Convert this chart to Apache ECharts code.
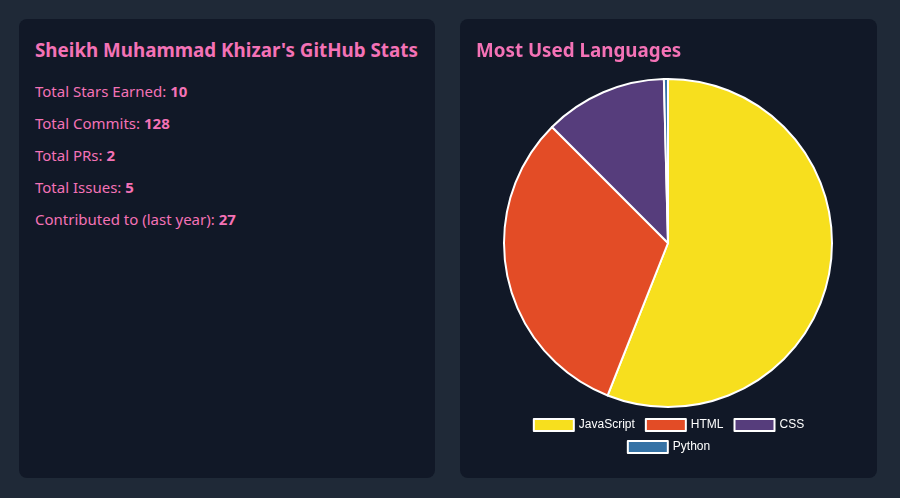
<!DOCTYPE html>
<html>
<head>
<meta charset="utf-8">
<script src="https://cdn.jsdelivr.net/npm/echarts@6/dist/echarts.min.js"></script>
<style>
  html, body { margin: 0; padding: 0; }
  body { width: 900px; height: 498px; background: #1f2937; position: relative; overflow: hidden; font-family: "Noto Sans", "Open Sans", sans-serif; }
  .card { position: absolute; top: 19px; width: 416px; height: 459px; background: #111827; border-radius: 8px; }
  #left { left: 19px; }
  #right { left: 460px; width: 417px; }
  .title { position: absolute; left: 16px; top: 18px; margin: 0; color: #f472b6; font-size: 18.8px; font-weight: bold; line-height: 26px; white-space: nowrap; }
  .stat { position: absolute; left: 16px; color: #f472b6; font-size: 15px; line-height: 20px; white-space: nowrap; }
  .stat b { font-weight: bold; }
  #chart { position: absolute; left: 0; top: 0; width: 417px; height: 459px; }
</style>
</head>
<body>
<div class="card" id="left">
  <div class="title" id="statsTitle"></div>
  <div id="stats"></div>
</div>
<div class="card" id="right">
  <div id="chart"></div>
  <div class="title" id="langTitle"></div>
</div>
<script>
const statsTitle = "Sheikh Muhammad Khizar's GitHub Stats";
const statLabels = ["Total Stars Earned", "Total Commits", "Total PRs", "Total Issues", "Contributed to (last year)"];
const statValues = [10, 128, 2, 5, 27];

const chartTitle = "Most Used Languages";
const languages = ["JavaScript", "HTML", "CSS", "Python"];
const languageShares = [56.0, 31.5, 12.1, 0.4];
const languageColors = ["#f7df1e", "#e34c26", "#563d7c", "#3572a5"];

document.getElementById('statsTitle').textContent = statsTitle;
document.getElementById('langTitle').textContent = chartTitle;
const statsDiv = document.getElementById('stats');
statLabels.forEach((lab, i) => {
  const d = document.createElement('div');
  d.className = 'stat';
  d.style.top = (62 + i * 32) + 'px';
  d.appendChild(document.createTextNode(lab + ': '));
  const b = document.createElement('b');
  b.textContent = statValues[i];
  d.appendChild(b);
  statsDiv.appendChild(d);
});

const chart = echarts.init(document.getElementById('chart'), null, { renderer: 'canvas' });
const legendText = { color: '#ffffff', fontSize: 12, fontFamily: 'Liberation Sans, Arial, sans-serif' };
chart.setOption({
  animation: false,
  legend: [
    {
      data: languages.slice(0, 3), left: 'center', top: 394, icon: 'rect',
      itemWidth: 40, itemHeight: 12, itemGap: 10, textStyle: legendText,
      itemStyle: { borderColor: '#ffffff', borderWidth: 2 }, selectedMode: false
    },
    {
      data: languages.slice(3), left: 'center', top: 416, icon: 'rect',
      itemWidth: 40, itemHeight: 12, itemGap: 10, textStyle: legendText,
      itemStyle: { borderColor: '#ffffff', borderWidth: 2 }, selectedMode: false
    }
  ],
  series: [{
    type: 'pie',
    center: [208, 224],
    radius: 164,
    startAngle: 90,
    clockwise: true,
    label: { show: false },
    labelLine: { show: false },
    emphasis: { disabled: true },
    itemStyle: { borderColor: '#ffffff', borderWidth: 2 },
    data: languages.map((n, i) => ({ name: n, value: languageShares[i], itemStyle: { color: languageColors[i] } }))
  }]
});
</script>
</body>
</html>
